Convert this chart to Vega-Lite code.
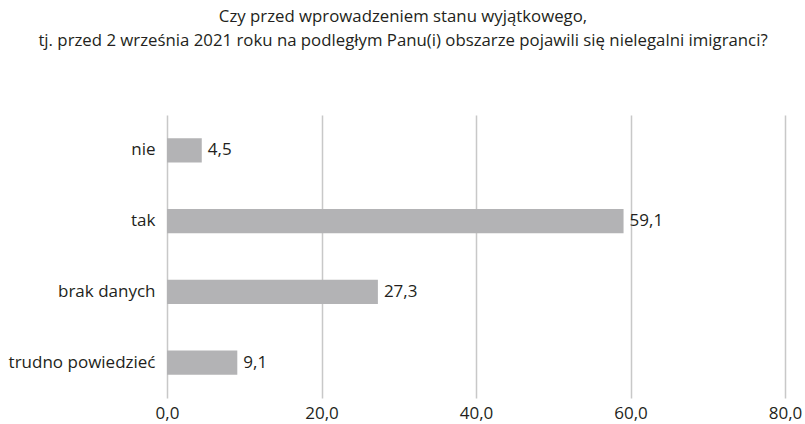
{
  "$schema": "https://vega.github.io/schema/vega-lite/v6.json",
  "width": 618,
  "height": 283,
  "autosize": {"type": "none"},
  "padding": {"left": 167, "top": 115, "right": 20, "bottom": 26},
  "background": "white",
  "title": {
    "text": ["Czy przed wprowadzeniem stanu wyjątkowego,", "tj. przed 2 września 2021 roku na podległym Panu(i) obszarze pojawili się nielegalni imigranci?"],
    "anchor": "middle",
    "dx": -73,
    "offset": 65,
    "font": "Open Sans",
    "fontSize": 16.8,
    "fontWeight": "normal",
    "lineHeight": 24,
    "color": "#231f20"
  },
  "config": {
    "locale": {"number": {"decimal": ",", "thousands": " ", "grouping": [3], "currency": ["", " zł"]}},
    "view": {"stroke": null},
    "font": "Open Sans"
  },
  "data": {
    "values": [
      {"kategoria": "nie", "wartosc": 4.5},
      {"kategoria": "tak", "wartosc": 59.1},
      {"kategoria": "brak danych", "wartosc": 27.3},
      {"kategoria": "trudno powiedzieć", "wartosc": 9.1}
    ]
  },
  "encoding": {
    "y": {
      "field": "kategoria",
      "type": "nominal",
      "sort": null,
      "scale": {"paddingInner": 0.66, "paddingOuter": 0.33},
      "axis": {"title": null, "ticks": false, "domain": false, "labelPadding": 12, "labelFontSize": 17, "labelColor": "#231f20", "labelFont": "Open Sans"}
    },
    "x": {
      "field": "wartosc",
      "type": "quantitative",
      "scale": {"domain": [0, 80], "nice": false},
      "axis": {"title": null, "values": [0, 20, 40, 60, 80], "format": ".1f", "ticks": false, "domain": false, "grid": true, "gridColor": "#c8c8c8", "gridWidth": 1.5, "labelPadding": 7, "labelFontSize": 17, "labelColor": "#231f20", "labelFont": "Open Sans", "labelFlush": false}
    }
  },
  "layer": [
    {"mark": {"type": "bar", "color": "#b3b3b5"}},
    {
      "mark": {"type": "text", "align": "left", "dx": 6, "fontSize": 17, "color": "#231f20", "font": "Open Sans"},
      "encoding": {"text": {"field": "wartosc", "type": "quantitative", "format": ".1f"}}
    }
  ]
}
